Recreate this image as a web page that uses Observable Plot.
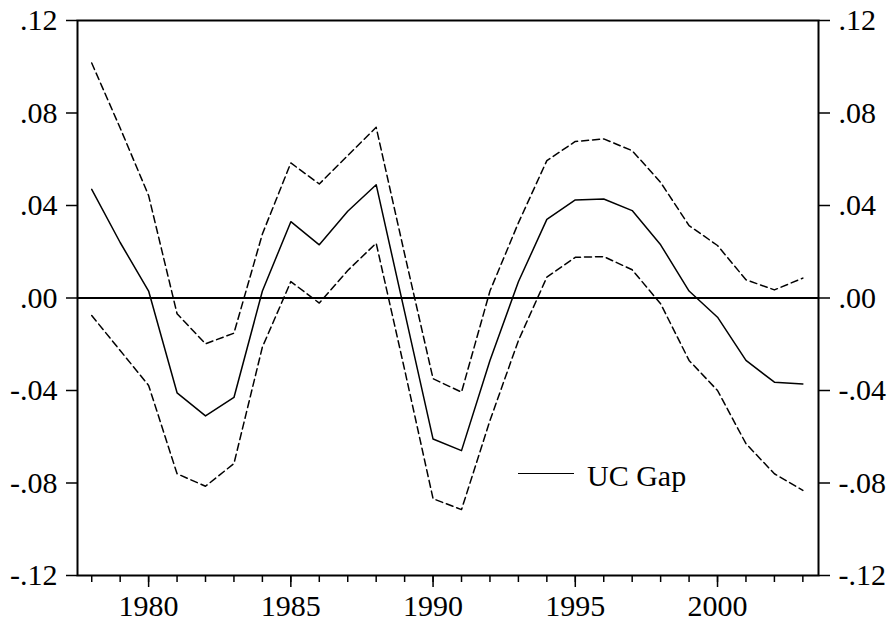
<!DOCTYPE html>
<html><head><meta charset="utf-8">
<script src="https://cdn.jsdelivr.net/npm/d3@7"></script>
<script src="https://cdn.jsdelivr.net/npm/@observablehq/plot@0.6"></script>
<style>
body{margin:0;background:#fff;}
#wrap{position:relative;width:891px;height:626px;}
.leg-line{position:absolute;left:518px;top:472.5px;width:56px;border-top:1.6px solid #000;}
.leg-text{position:absolute;left:587px;top:460.5px;font:30px/30px "Liberation Serif",serif;color:#000;white-space:nowrap;}
</style></head><body><div id="wrap"></div>
<script>
const years = [1978,1979,1980,1981,1982,1983,1984,1985,1986,1987,1988,1989,1990,1991,1992,1993,1994,1995,1996,1997,1998,1999,2000,2001,2002,2003];
const gap   = [0.047,0.024,0.003,-0.041,-0.051,-0.043,0.003,0.033,0.023,0.0375,0.049,-0.006,-0.061,-0.066,-0.027,0.007,0.034,0.0424,0.0428,0.0378,0.023,0.003,-0.0083,-0.027,-0.0364,-0.0372];
const upper = [0.1016,0.0735,0.0443,-0.0068,-0.0198,-0.0152,0.0277,0.0584,0.0493,0.0616,0.0738,0.019,-0.0349,-0.0407,0.003,0.0325,0.0594,0.0677,0.0688,0.0637,0.050,0.0313,0.0227,0.0079,0.0035,0.0086];
const lower = [-0.0076,-0.0227,-0.0378,-0.076,-0.0814,-0.0716,-0.0212,0.0071,-0.0022,0.0119,0.0237,-0.031,-0.0868,-0.0915,-0.053,-0.0184,0.009,0.0176,0.0179,0.0122,-0.0025,-0.027,-0.040,-0.063,-0.076,-0.0832];
const yTicks = [-0.12,-0.08,-0.04,0,0.04,0.08,0.12];
const majorYears = [1980,1985,1990,1995,2000];
const legendLabel = "UC Gap";

const fmt = d => d === 0 ? ".00" : (d < 0 ? "-" : "") + Math.abs(d).toFixed(2).slice(1);
const rows = years.map((y,i)=>({year:y, gap:gap[i], upper:upper[i], lower:lower[i]}));

const chart = Plot.plot({
  width:891, height:626, marginLeft:77, marginRight:73, marginTop:20, marginBottom:51,
  style:{fontFamily:'"Liberation Serif", serif', fontSize:"30px", background:"#fff", color:"#000", overflow:"visible"},
  x:{domain:[1977.5,2003.55]},
  y:{domain:[-0.12,0.12]},
  marks:[
    Plot.axisX(years,{tickSize:7, tickFormat:()=>"", strokeWidth:1.5, label:null}),
    Plot.axisX(majorYears,{tickSize:12, tickPadding:7, tickFormat:d=>String(d), strokeWidth:1.5, label:null, fontSize:30}),
    Plot.axisY(yTicks,{anchor:"left", tickSize:11, tickPadding:9, tickFormat:fmt, strokeWidth:1.5, label:null, fontSize:30}),
    Plot.axisY(yTicks,{anchor:"right", tickSize:11, tickPadding:9, tickFormat:fmt, strokeWidth:1.5, label:null, fontSize:30}),
    Plot.ruleY([0],{stroke:"#000", strokeWidth:1.8}),
    Plot.line(rows,{x:"year", y:"upper", stroke:"#000", strokeWidth:1.5, strokeDasharray:"7,4"}),
    Plot.line(rows,{x:"year", y:"lower", stroke:"#000", strokeWidth:1.5, strokeDasharray:"7,4"}),
    Plot.line(rows,{x:"year", y:"gap", stroke:"#000", strokeWidth:1.5}),
    Plot.frame({stroke:"#000", strokeWidth:2})
  ]
});
const wrap = document.getElementById("wrap");
wrap.appendChild(chart);
const ll = document.createElement("div"); ll.className = "leg-line"; wrap.appendChild(ll);
const lt = document.createElement("div"); lt.className = "leg-text"; lt.textContent = legendLabel; wrap.appendChild(lt);
</script>
</body></html>
